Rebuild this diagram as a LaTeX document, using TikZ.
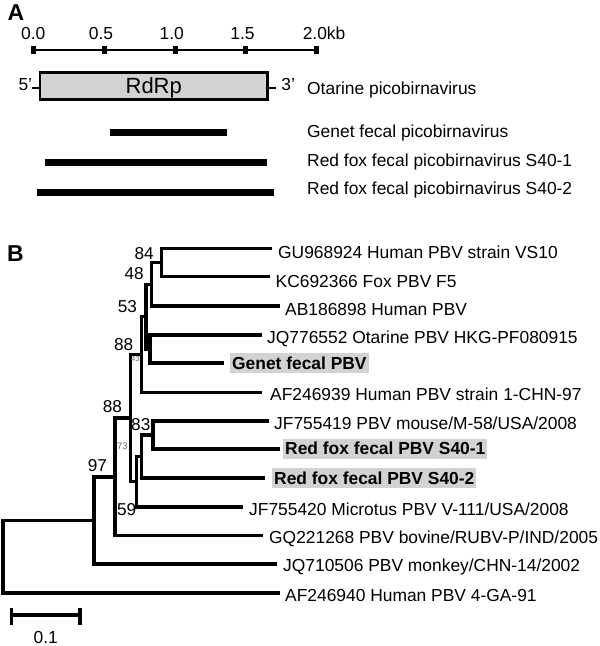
\documentclass[tikz,border=0pt]{standalone}
\usepackage{fontspec}
\setmainfont{Liberation Sans}
\begin{document}
\begin{tikzpicture}[x=1pt,y=-1pt,
  br/.style={line width=3.4pt},
  lf/.style={font=\fontsize{17.4}{20}\selectfont, anchor=base west, inner sep=0pt},
  tl/.style={font=\fontsize{17.4}{20}\selectfont, anchor=base, inner sep=0pt},
  hl/.style={fill=gray!35, font=\bfseries\fontsize{17.4}{20}\selectfont, anchor=west, inner xsep=2pt, inner ysep=3.75pt, text height=12.5pt, text depth=0pt},
  bs/.style={font=\fontsize{17.2}{19}\selectfont, anchor=base, inner sep=0pt},
  bsm/.style={anchor=base, inner sep=0pt, text=black!60},
  tk/.style={fill=black, minimum width=5pt, minimum height=8pt, inner sep=0pt},
  gbar/.style={line width=6.6pt},
  thin/.style={line width=2pt},
  panel/.style={font=\bfseries\fontsize{23}{25}\selectfont, anchor=base west, inner sep=0pt},
  ]
\useasboundingbox (0,0) rectangle (600,646);

% ---------------- Panel A ----------------
\node[panel] (pA) at (7.5,20) {A};

\node[tk] (t0) at (33,50) {};
\node[tk] (t1) at (104.5,50) {};
\node[tk] (t2) at (175,50) {};
\node[tk] (t3) at (245.3,50) {};
\node[tk] (t4) at (316.7,50) {};
\draw[thin] (t0.center) -- (t4.center);
\node[tl] (l0) at (33.3,39) {0.0};
\node[tl] (l1) at (101,39) {0.5};
\node[tl] (l2) at (171.7,39) {1.0};
\node[tl] (l3) at (242.5,39) {1.5};
\node[tl, anchor=base west] (l4) at (302.6,39) {2.0kb};

\node[draw, line width=2.6pt, fill=gray!35, minimum width=227.5pt, minimum height=27pt,
      inner sep=0pt, text height=15.7pt, text depth=0pt, font=\fontsize{22}{24}\selectfont]
      (rdrp) at (153.75,86) {RdRp};
\coordinate (c5) at (32.3,87.5);
\coordinate (c3) at (275.5,87.5);
\draw[thin] (c5) -- (c5 -| rdrp.west);
\draw[thin] (rdrp.east |- c3) -- (c3);
\node[lf, anchor=base east] (p5) at (32.3,90.7) {5'};
\node[lf] (p3) at (281.2,90.7) {3'};
\node[lf] (oLab) at (307,94.3) {Otarine picobirnavirus};

\coordinate (g1) at (110,132.7);
\coordinate (g2) at (227,132.7);
\coordinate (r1a) at (45,162.7);
\coordinate (r1b) at (267,162.7);
\coordinate (r2a) at (37,192.3);
\coordinate (r2b) at (274,192.3);
\draw[gbar] (g1) -- (g2);
\draw[gbar] (r1a) -- (r1b);
\draw[gbar] (r2a) -- (r2b);
\node[lf] (gLab) at (307,137.7) {Genet fecal picobirnavirus};
\node[lf] (r1Lab) at (307,166) {Red fox fecal picobirnavirus S40-1};
\node[lf] (r2Lab) at (307,194.3) {Red fox fecal picobirnavirus S40-2};

% ---------------- Panel B ----------------
\node[panel] (pB) at (7,261.7) {B};

% leaves (branch ends)
\coordinate (L1) at (272,248.3);
\coordinate (L2) at (270,276.7);
\coordinate (L3) at (280,306);
\coordinate (L4) at (262,335);
\coordinate (L5) at (224,363);
\coordinate (L6) at (262,392.3);
\coordinate (L7) at (269,421);
\coordinate (L8) at (280,449);
\coordinate (L9) at (265,478);
\coordinate (L10) at (243,507);
\coordinate (L11) at (263,535.5);
\coordinate (L12) at (277,564);
\coordinate (L13) at (280,593);
% internal nodes
\coordinate (n84) at (161.7,262.5);
\coordinate (n48) at (151.5,284.2);
\coordinate (n43) at (150,349);
\coordinate (n53) at (146,316.6);
\coordinate (n88u) at (141.7,354.5);
\coordinate (n83) at (153,435);
\coordinate (n59) at (141.7,456.5);
\coordinate (n73) at (136.3,481.7);
\coordinate (n88l) at (130.5,418.1);
\coordinate (n97) at (115,476.8);
\coordinate (nX) at (94,520.4);
\coordinate (root) at (3,556.7);

\draw[br] (L1) -| (n84);  \draw[br] (L2) -| (n84);
\draw[br] (n84) -| (n48); \draw[br] (L3) -| (n48);
\draw[br] (L4) -| (n43);  \draw[br] (L5) -| (n43);
\draw[br] (n48) -| (n53); \draw[br] (n43) -| (n53);
\draw[br] (n53) -| (n88u); \draw[br] (L6) -| (n88u);
\draw[br] (L7) -| (n83);  \draw[br] (L8) -| (n83);
\draw[br] (n83) -| (n59); \draw[br] (L9) -| (n59);
\draw[br] (n59) -| (n73); \draw[br] (L10) -| (n73);
\draw[br] (n88u) -| (n88l); \draw[br] (n73) -| (n88l);
\draw[br] (n88l) -| (n97); \draw[br] (L11) -| (n97);
\draw[br] (n97) -| (nX);  \draw[br] (L12) -| (nX);
\draw[br] (nX) -| (root); \draw[br] (L13) -| (root);

% leaf labels
\node[lf] (tGU) at (278,258.3) {GU968924 Human PBV strain VS10};
\node[lf] (tKC) at (275.5,287) {KC692366 Fox PBV F5};
\node[lf] (tAB) at (285,315) {AB186898 Human PBV};
\node[lf] (tJQ7) at (267,343.3) {JQ776552 Otarine PBV HKG-PF080915};
\node[hl] (tGen) at (230,363) {Genet fecal PBV};
\node[lf] (tAF9) at (270,400) {AF246939 Human PBV strain 1-CHN-97};
\node[lf] (tJF9) at (274,429.3) {JF755419 PBV mouse/M-58/USA/2008};
\node[hl] (tS1) at (283,448.5) {Red fox fecal PBV S40-1};
\node[hl] (tS2) at (272,478) {Red fox fecal PBV S40-2};
\node[lf] (tJF0) at (249,515) {JF755420 Microtus PBV V-111/USA/2008};
\node[lf] (tGQ) at (269,543.3) {GQ221268 PBV bovine/RUBV-P/IND/2005};
\node[lf] (tJQ1) at (283,571.7) {JQ710506 PBV monkey/CHN-14/2002};
\node[lf] (tAF0) at (285,601.7) {AF246940 Human PBV 4-GA-91};

% bootstrap values
\node[bs] (b84) at (144.2,259.3) {84};
\node[bs] (b48) at (134.2,279.3) {48};
\node[bs] (b53) at (127.5,312) {53};
\node[bs] (b88u) at (123.7,350.7) {88};
\node[bsm, font=\fontsize{7.5}{8}\selectfont] (b43) at (135.3,361.7) {43};
\node[bs] (b88l) at (112.5,412.3) {88};
\node[bs] (b83) at (140.8,430) {83};
\node[bsm, font=\fontsize{9.5}{10}\selectfont] (b73) at (122.3,449.3) {73};
\node[bs] (b97) at (97.5,471.7) {97};
\node[bs] (b59) at (126.7,515) {59};

% scale bar
\coordinate (sL) at (11.7,615);
\coordinate (sR) at (80,615);
\draw[br] (sL) -- (sR);
\draw[br] ([yshift=6.7pt]sL) -- ([yshift=-10pt]sL);
\draw[br] ([yshift=6.7pt]sR) -- ([yshift=-10pt]sR);
\node[tl] (s01) at (45.8,643.5) {0.1};
\end{tikzpicture}
\end{document}
